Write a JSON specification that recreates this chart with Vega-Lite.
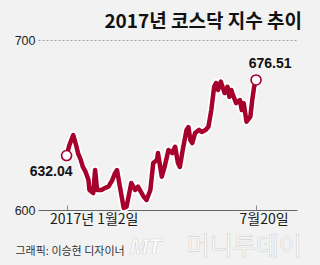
{
  "$schema": "https://vega.github.io/schema/vega-lite/v6.json",
  "width": 259,
  "height": 170,
  "autosize": {"type": "none"},
  "padding": {"left": 38, "top": 40, "right": 23, "bottom": 55},
  "background": "#f2f2f2",
  "config": {"view": {"stroke": null}, "font": "Noto Sans CJK KR"},
  "title": {
    "text": "2017년 코스닥 지수 추이",
    "anchor": "end",
    "frame": "group",
    "fontSize": 19,
    "fontWeight": "bold",
    "color": "#111111",
    "font": "Noto Sans CJK KR",
    "offset": 2,
    "dx": 5
  },
  "datasets": {
    "kosdaq": [
      {"date": "2017-01-02", "value": 632.04},
      {"date": "2017-01-05", "value": 638.2},
      {"date": "2017-01-09", "value": 644.1},
      {"date": "2017-01-12", "value": 638.2},
      {"date": "2017-01-14", "value": 633.5},
      {"date": "2017-01-17", "value": 629.4},
      {"date": "2017-01-19", "value": 625.5},
      {"date": "2017-01-22", "value": 622.4},
      {"date": "2017-01-25", "value": 617.6},
      {"date": "2017-01-26", "value": 611.8},
      {"date": "2017-01-30", "value": 610.0},
      {"date": "2017-02-01", "value": 623.5},
      {"date": "2017-02-03", "value": 611.8},
      {"date": "2017-02-08", "value": 611.8},
      {"date": "2017-02-11", "value": 612.9},
      {"date": "2017-02-15", "value": 613.7},
      {"date": "2017-02-19", "value": 617.6},
      {"date": "2017-02-22", "value": 621.8},
      {"date": "2017-02-24", "value": 623.5},
      {"date": "2017-02-27", "value": 613.7},
      {"date": "2017-03-03", "value": 601.2},
      {"date": "2017-03-06", "value": 602.0},
      {"date": "2017-03-11", "value": 615.9},
      {"date": "2017-03-15", "value": 611.8},
      {"date": "2017-03-18", "value": 613.7},
      {"date": "2017-03-24", "value": 607.8},
      {"date": "2017-03-27", "value": 605.9},
      {"date": "2017-03-31", "value": 611.8},
      {"date": "2017-04-03", "value": 627.6},
      {"date": "2017-04-07", "value": 629.4},
      {"date": "2017-04-08", "value": 633.5},
      {"date": "2017-04-12", "value": 619.6},
      {"date": "2017-04-15", "value": 625.5},
      {"date": "2017-04-19", "value": 635.3},
      {"date": "2017-04-23", "value": 633.5},
      {"date": "2017-04-26", "value": 637.2},
      {"date": "2017-04-29", "value": 627.6},
      {"date": "2017-05-01", "value": 625.3},
      {"date": "2017-05-04", "value": 635.3},
      {"date": "2017-05-08", "value": 647.1},
      {"date": "2017-05-10", "value": 648.8},
      {"date": "2017-05-12", "value": 641.2},
      {"date": "2017-05-14", "value": 639.4},
      {"date": "2017-05-17", "value": 645.3},
      {"date": "2017-05-21", "value": 647.1},
      {"date": "2017-05-24", "value": 645.9},
      {"date": "2017-05-28", "value": 647.1},
      {"date": "2017-05-31", "value": 649.0},
      {"date": "2017-06-03", "value": 658.8},
      {"date": "2017-06-06", "value": 672.5},
      {"date": "2017-06-08", "value": 674.7},
      {"date": "2017-06-10", "value": 670.6},
      {"date": "2017-06-13", "value": 675.5},
      {"date": "2017-06-17", "value": 668.8},
      {"date": "2017-06-20", "value": 672.5},
      {"date": "2017-06-22", "value": 666.6},
      {"date": "2017-06-24", "value": 670.6},
      {"date": "2017-06-25", "value": 668.8},
      {"date": "2017-06-29", "value": 662.9},
      {"date": "2017-07-03", "value": 664.7},
      {"date": "2017-07-05", "value": 658.8},
      {"date": "2017-07-07", "value": 662.9},
      {"date": "2017-07-10", "value": 651.9},
      {"date": "2017-07-14", "value": 654.9},
      {"date": "2017-07-16", "value": 664.7},
      {"date": "2017-07-18", "value": 672.5},
      {"date": "2017-07-20", "value": 676.51}
    ],
    "ends": [
      {"date": "2017-01-02", "value": 632.04, "label": "632.04", "pos": "start"},
      {"date": "2017-07-20", "value": 676.51, "label": "676.51", "pos": "end"}
    ],
    "notes": [
      {"date": "2017-09-06", "value": 578, "label": "머니투데이"},
      {"date": "2017-03-26", "value": 578, "label": "MT"}
    ]
  },
  "encoding": {
    "x": {
      "field": "date",
      "type": "temporal",
      "scale": {
        "type": "utc",
        "domain": [
          {"year": 2016, "month": 12, "date": 3, "utc": true},
          {"year": 2017, "month": 9, "date": 1, "utc": true}
        ]
      },
      "axis": {
        "values": [
          {"year": 2017, "month": 1, "date": 2, "utc": true},
          {"year": 2017, "month": 7, "date": 20, "utc": true}
        ],
        "labelExpr": "utcmonth(datum.value) == 0 ? '2017년 1월2일' : '7월20일'",
        "labelAlign": "left",
        "labelOffset": -17,
        "labelBaseline": "top",
        "labelPadding": 7,
        "labelFontSize": 14,
        "labelColor": "#1a1a1a",
        "labelFont": "Noto Sans CJK KR",
        "tickSize": -5,
        "tickColor": "#888888",
        "domainColor": "#666666",
        "grid": false,
        "title": "그래픽: 이승현 디자이너",
        "titleAnchor": "start",
        "titleAlign": "left",
        "titleBaseline": "alphabetic",
        "titleX": -23,
        "titleY": 44,
        "titleFontSize": 11,
        "titleFontWeight": "normal",
        "titleColor": "#333333",
        "titleFont": "Noto Sans CJK KR"
      }
    },
    "y": {
      "field": "value",
      "type": "quantitative",
      "scale": {"domain": [600, 700], "zero": false, "nice": false},
      "axis": {
        "values": [600, 700],
        "grid": true,
        "gridDash": [2, 2],
        "gridColor": "#888888",
        "gridWidth": 0.8,
        "gridOpacity": {"condition": {"test": "datum.value == 600", "value": 0}, "value": 1},
        "domain": false,
        "ticks": false,
        "labelPadding": 3,
        "labelFontSize": 12.5,
        "labelColor": "#222222",
        "labelFont": "Liberation Sans Narrow, Liberation Sans",
        "title": null
      }
    }
  },
  "layer": [
    {
      "data": {"name": "kosdaq"},
      "mark": {"type": "line", "color": "#ffffff", "strokeWidth": 8, "strokeJoin": "round", "strokeCap": "round"}
    },
    {
      "data": {"name": "kosdaq"},
      "mark": {"type": "line", "color": "#a6002c", "strokeWidth": 4.5, "strokeJoin": "round", "strokeCap": "round"}
    },
    {
      "data": {"name": "ends"},
      "mark": {"type": "point", "shape": "circle", "size": 100, "filled": true, "fill": "#ffffff", "stroke": "#a6002c", "strokeWidth": 1.6, "opacity": 1}
    },
    {
      "data": {"name": "ends"},
      "transform": [{"filter": "datum.pos == 'start'"}],
      "mark": {"type": "text", "align": "right", "baseline": "middle", "dx": 6, "dy": 16, "fontSize": 14, "fontWeight": "bold", "font": "Liberation Sans", "color": "#111111"},
      "encoding": {"text": {"field": "label"}}
    },
    {
      "data": {"name": "ends"},
      "transform": [{"filter": "datum.pos == 'end'"}],
      "mark": {"type": "text", "align": "center", "baseline": "middle", "dx": 14, "dy": -16, "fontSize": 14, "fontWeight": "bold", "font": "Liberation Sans", "color": "#111111"},
      "encoding": {"text": {"field": "label"}}
    },
    {
      "data": {"name": "notes"},
      "transform": [{"filter": "datum.label == '머니투데이'"}],
      "mark": {"type": "text", "align": "right", "baseline": "middle", "fontSize": 25, "font": "Noto Sans CJK KR", "fill": "#ffffff", "stroke": "#d6d6d6", "strokeWidth": 0.7, "clip": false},
      "encoding": {"text": {"field": "label"}}
    },
    {
      "data": {"name": "notes"},
      "transform": [{"filter": "datum.label == 'MT'"}],
      "mark": {"type": "text", "align": "center", "baseline": "middle", "fontSize": 22, "fontStyle": "italic", "fontWeight": "bold", "font": "Liberation Sans", "fill": "#ffffff", "stroke": "#d6d6d6", "strokeWidth": 0.7, "clip": false},
      "encoding": {"text": {"field": "label"}}
    }
  ]
}
